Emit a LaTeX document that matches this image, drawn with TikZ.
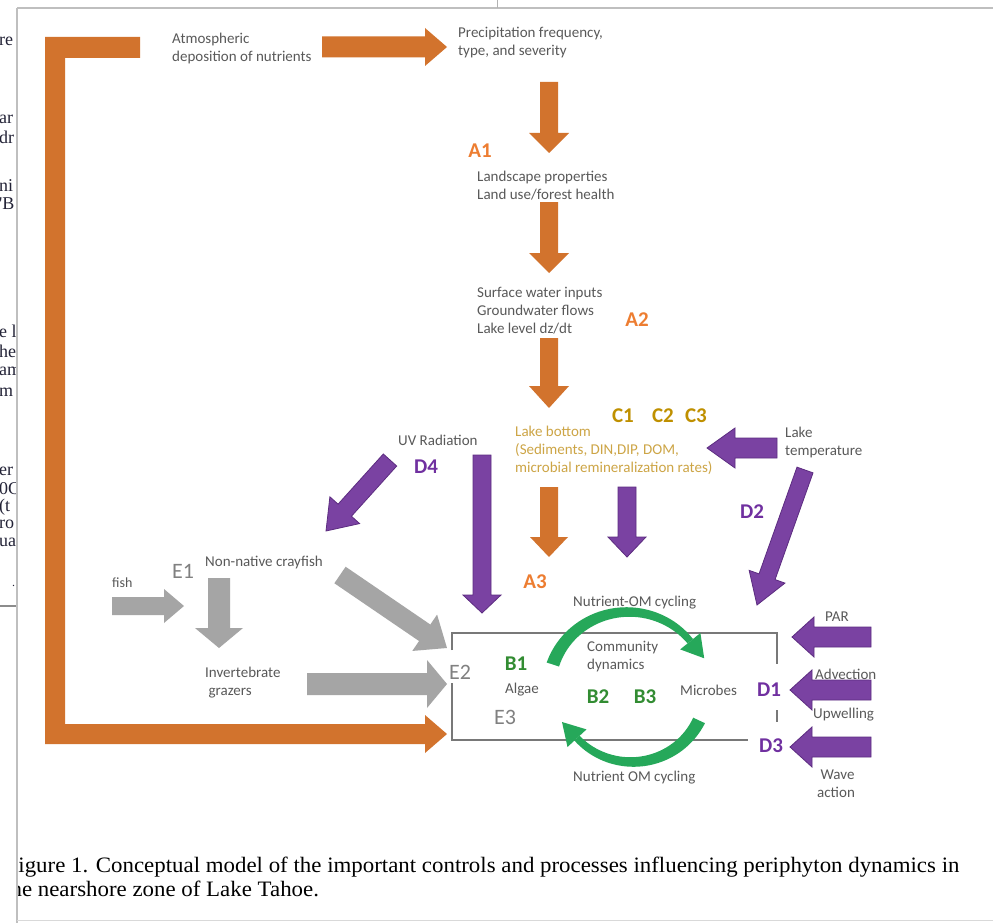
\documentclass[tikz,border=0pt]{standalone}
\usepackage{fontspec}
\usepackage{graphicx}
\setmainfont{Carlito}
\newfontfamily\tnr{Liberation Serif}
\usetikzlibrary{calc}
\definecolor{txtgray}{RGB}{89,89,89}
\definecolor{arrorange}{RGB}{210,115,45}
\definecolor{lblorange}{RGB}{237,125,49}
\definecolor{arrpurple}{RGB}{122,66,162}
\definecolor{purpedge}{RGB}{92,44,128}
\definecolor{lblpurple}{RGB}{112,48,160}
\definecolor{arrgray}{RGB}{165,165,165}
\definecolor{lblgray}{RGB}{128,128,128}
\definecolor{lblgreen}{RGB}{50,140,50}
\definecolor{arcgreen}{RGB}{38,168,90}
\definecolor{lblgold}{RGB}{191,144,0}
\definecolor{txtgold}{RGB}{205,165,70}
\definecolor{boxgray}{RGB}{120,120,120}
\definecolor{docink}{RGB}{35,35,55}
\newcommand{\blkarrow}[6]{%
  \pgfpointanchor{#2}{center}\pgfgetlastxy{\bAxa}{\bAya}%
  \pgfpointanchor{#3}{center}\pgfgetlastxy{\bAxb}{\bAyb}%
  \pgfmathsetmacro{\bAa}{atan2(\bAyb-\bAya,\bAxb-\bAxa)}%
  \pgfmathsetmacro{\bAl}{veclen(\bAxb-\bAxa,\bAyb-\bAya)}%
  \path[#1, shift={(\bAxa,\bAya)}, rotate=\bAa]
    (0,{-#4}) -- ({\bAl-#6},{-#4}) -- ({\bAl-#6},{-#5}) -- ({\bAl},0) --
    ({\bAl-#6},{#5}) -- ({\bAl-#6},{#4}) -- (0,{#4}) -- cycle;}
\begin{document}
\begin{tikzpicture}[x=1pt,y=-1pt,
  txt/.style={font=\fontsize{15}{18}\selectfont, text=txtgray, inner sep=0pt, align=left, anchor=west},
  smalltxt/.style={font=\fontsize{15}{18}\selectfont, text=txtgray, inner sep=0pt, align=left, anchor=west},
  lbl/.style={font=\fontsize{21}{24}\selectfont\bfseries, inner sep=0pt},
  elbl/.style={font=\fontsize{22}{24}\selectfont, text=lblgray, inner sep=0pt},
  frag/.style={font=\tnr\fontsize{18}{20}\selectfont, text=docink, inner sep=0pt, anchor=west},
  capt/.style={anchor=base west, inner sep=0pt, font=\tnr\fontsize{22}{24}\selectfont, text=black, xscale=1.04},
  orangearrow/.style={fill=arrorange},
  purplearrow/.style={fill=arrpurple, draw=purpedge, line width=0.8pt, line join=miter},
  grayarrow/.style={fill=arrgray},
  boxline/.style={draw=boxgray, line width=1.4pt},
  edge/.style={draw=black!25, line width=1.2pt}]
\useasboundingbox (0,0) rectangle (993,923);
\fill[white] (0,0) rectangle (993,923);

% ---------- background document fragments (left strip)
\begin{scope}
\clip (0,0) rectangle (16.5,923);
\node[frag] (f1) at (-1,41) {re};
\node[frag] (f2) at (-1,119) {ar};
\node[frag] (f3) at (-1,137) {dr};
\node[frag] (f4) at (-1,186) {ni};
\node[frag] (f5) at (-1,204) {'B};
\node[frag] (f6) at (-1,331) {e l};
\node[frag] (f7) at (-1,351) {he};
\node[frag] (f8) at (-1,371) {am};
\node[frag] (f9) at (-1,392) {m};
\node[frag] (f10) at (-1,471) {er};
\node[frag] (f11) at (-1,489) {0C};
\node[frag] (f12) at (-1,507) {(t};
\node[frag] (f13) at (-1,524) {ro};
\node[frag] (f14) at (-1,542) {ua};
\node[frag, font=\tnr\fontsize{12}{14}\selectfont] (f15) at (12,586) {.};
\draw[black!45, line width=2.5pt] (0,606) -- (17,606);
\end{scope}

% ---------- figure window
\begin{scope}
\clip (17.5,8.5) rectangle (993,920.5);

% orange L-shaped connector
\coordinate (Lstart) at (140,47);
\coordinate (Lend) at (447,734);
\fill[arrorange] (45,37) -- (140,37) -- (140,58) -- (65,58) -- (65,724) -- (425,724)
  -- (425,715) -- (Lend) -- (425,753) -- (425,744) -- (45,744) -- cycle;

% arrow end points
\coordinate (atmS) at (322,47);  \coordinate (atmT) at (447,47);
\coordinate (p1S) at (549,82);   \coordinate (p1T) at (549,153);
\coordinate (p2S) at (549,202);  \coordinate (p2T) at (549,273);
\coordinate (p3S) at (549,338);  \coordinate (p3T) at (549,408);
\coordinate (p4S) at (549,487);  \coordinate (p4T) at (549,557);
\coordinate (pu1S) at (627,487); \coordinate (pu1T) at (627,557);
\coordinate (ltS) at (777,448);  \coordinate (ltT) at (707,448);
\coordinate (d2S) at (805,470);  \coordinate (d2T) at (757,605);
\coordinate (uvS) at (482,455);  \coordinate (uvT) at (482,613);
\coordinate (d4S) at (390,460);  \coordinate (d4T) at (326,531);
\coordinate (fishS) at (112,606); \coordinate (fishT) at (184,606);
\coordinate (crS) at (219,578);  \coordinate (crT) at (219,648);
\coordinate (cr2S) at (340,575); \coordinate (cr2T) at (447,648);
\coordinate (invS) at (307,684); \coordinate (invT) at (447,684);
\coordinate (parS) at (871,637); \coordinate (parT) at (792,637);
\coordinate (advS) at (871,690); \coordinate (advT) at (790,690);
\coordinate (wavS) at (871,747); \coordinate (wavT) at (790,747);

% orange block arrows
\blkarrow{orangearrow}{atmS}{atmT}{10.5}{19}{22}
\blkarrow{orangearrow}{p1S}{p1T}{9}{20}{20}
\blkarrow{orangearrow}{p2S}{p2T}{9}{20}{20}
\blkarrow{orangearrow}{p3S}{p3T}{9}{20}{22}
\blkarrow{orangearrow}{p4S}{p4T}{9}{19}{20}
% purple block arrows
\blkarrow{purplearrow}{pu1S}{pu1T}{9}{19}{20}
\blkarrow{purplearrow}{ltS}{ltT}{10}{20}{28}
\blkarrow{purplearrow}{d2S}{d2T}{8.5}{19}{30}
\blkarrow{purplearrow}{uvS}{uvT}{9}{19}{18}
\blkarrow{purplearrow}{d4S}{d4T}{9}{20}{28}
\blkarrow{purplearrow}{parS}{parT}{10}{20}{22}
\blkarrow{purplearrow}{advS}{advT}{10}{20}{22}
\blkarrow{purplearrow}{wavS}{wavT}{10}{20}{22}
% gray block arrows
\blkarrow{grayarrow}{fishS}{fishT}{9}{17}{20}
\blkarrow{grayarrow}{crS}{crT}{11}{24}{20}
\blkarrow{grayarrow}{cr2S}{cr2T}{10}{22}{27}
\blkarrow{grayarrow}{invS}{invT}{11}{24}{20}

% box
\path[boxline] (452,650) -- (452,633) -- (777,633) -- (777,664);
\path[boxline] (777,710) -- (777,722);
\path[boxline] (452,683) -- (452,740) -- (748,740);

% green cycle arcs
\fill[arcgreen] plot[domain=162:38, samples=40, smooth]
   ({628+(79+6.5-3*(162-\x)/124)*cos(\x)}, {688-(76+6.5-3*(162-\x)/124)*sin(\x)})
   -- plot[domain=38:162, samples=40, smooth]
   ({628+(79-6.5+3*(162-\x)/124)*cos(\x)}, {688-(76-6.5+3*(162-\x)/124)*sin(\x)}) -- cycle;
\fill[arcgreen] (680.2,649.4) -- (704.2,658.3) -- (700.4,633) -- cycle;
\fill[arcgreen] plot[domain=-25:-138, samples=40, smooth]
   ({632+(74+6.5-3*(-25-\x)/113)*cos(\x)}, {690-(72+6.5-3*(-25-\x)/113)*sin(\x)})
   -- plot[domain=-138:-25, samples=40, smooth]
   ({632+(74-6.5+3*(-25-\x)/113)*cos(\x)}, {690-(72-6.5+3*(-25-\x)/113)*sin(\x)}) -- cycle;
\fill[arcgreen] (586.5,729.4) -- (562,722) -- (567.5,747) -- cycle;

% text nodes
\node[txt] (atm) at (172,49) {Atmospheric\\deposition of nutrients};
\node[txt] (precip) at (458,43) {Precipitation frequency,\\type, and severity};
\node[txt] (land) at (477,186) {Landscape properties\\Land use/forest health};
\node[txt] (surf) at (477,311) {Surface water inputs\\Groundwater flows\\Lake level dz/dt};
\node[txt, text=txtgold] (lakebot) at (515,450) {Lake bottom\\(Sediments, DIN,DIP, DOM,\\microbial remineralization rates)};
\node[smalltxt] (laketemp) at (785,442) {Lake\\temperature};
\node[smalltxt] (uv) at (398,440) {UV Radiation};
\node[smalltxt] (cray) at (205,562) {Non-native crayfish};
\node[smalltxt, font=\fontsize{14}{16}\selectfont] (fish) at (112,583) {fish};
\node[smalltxt] (invert) at (205,683) {Invertebrate\\\ grazers};
\node[smalltxt] (nomtop) at (573,603) {Nutrient-OM cycling};
\node[smalltxt] (comm) at (587,657) {Community\\dynamics};
\node[smalltxt] (algae) at (505,690) {Algae};
\node[smalltxt] (microbes) at (680,690) {Microbes};
\node[smalltxt] (nombot) at (573,778) {Nutrient OM cycling};
\node[smalltxt] (par) at (825,617) {PAR};
\node[smalltxt] (adv) at (815,674) {Advection};
\node[smalltxt] (upw) at (813,715) {Upwelling};
\node[smalltxt] (wave) at (817,784) {\ Wave\\action};

% labels
\node[lbl, text=lblorange] (A1) at (480,151) {A1};
\node[lbl, text=lblorange] (A2) at (637,320) {A2};
\node[lbl, text=lblorange] (A3) at (535,582) {A3};
\node[lbl, text=lblgold] (C1) at (623,416) {C1};
\node[lbl, text=lblgold] (C2) at (663,416) {C2};
\node[lbl, text=lblgold] (C3) at (696,416) {C3};
\node[lbl, text=lblpurple] (D4) at (426,467) {D4};
\node[lbl, text=lblpurple] (D2) at (752,512) {D2};
\node[lbl, text=lblpurple] (D1) at (769,690) {D1};
\node[lbl, text=lblpurple] (D3) at (771,746) {D3};
\node[lbl, text=lblgreen] (B1) at (516,664) {B1};
\node[lbl, text=lblgreen] (B2) at (598,697) {B2};
\node[lbl, text=lblgreen] (B3) at (645,697) {B3};
\node[elbl] (E1) at (183,571) {E1};
\node[elbl] (E2) at (460,672) {E2};
\node[elbl] (E3) at (505,717) {E3};

% caption
\node[capt] (cap1) at (5.5,872)
  {Figure 1. Conceptual model of the important controls and processes influencing periphyton dynamics in};
\node[capt] (cap2) at (4,896)
  {the nearshore zone of Lake Tahoe.};
\end{scope}

% window edges
\path[edge] (17,8) -- (993,8);
\path[edge] (17,8) -- (17,923);
\path[draw=black!15, line width=1pt] (17,920.5) -- (993,920.5);
\path[draw=black!30, line width=1pt] (497,0) -- (497,8);
\end{tikzpicture}
\end{document}
